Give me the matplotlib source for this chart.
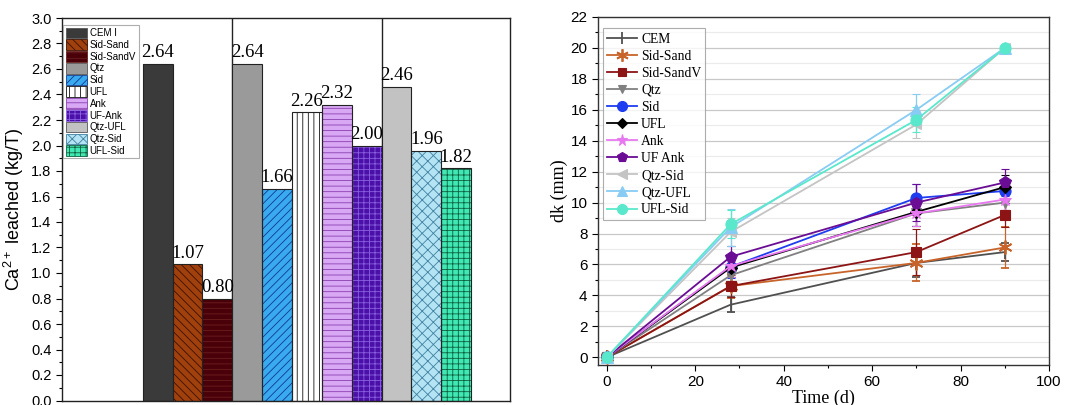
import matplotlib
matplotlib.use("Agg")
import matplotlib.pyplot as plt
from matplotlib.patches import Patch
from matplotlib.lines import Line2D
from matplotlib.ticker import MultipleLocator
import numpy as np

# ---------------- data: left bar chart ----------------
bar_labels = ["CEM I", "Sid-Sand", "Sid-SandV", "Qtz", "Sid", "UFL", "Ank",
              "UF-Ank", "Qtz-UFL", "Qtz-Sid", "UFL-Sid"]
bar_values = [2.64, 1.07, 0.80, 2.64, 1.66, 2.26, 2.32, 2.00, 2.46, 1.96, 1.82]
bar_value_text = ["2.64", "1.07", "0.80", "2.64", "1.66", "2.26", "2.32",
                  "2.00", "2.46", "1.96", "1.82"]

# ---------------- data: right line chart ----------------
time_d = [0, 28, 70, 90]
series_names = ["CEM", "Sid-Sand", "Sid-SandV", "Qtz", "Sid", "UFL", "Ank",
                "UF Ank", "Qtz-Sid", "Qtz-UFL", "UFL-Sid"]
dk_CEM = [0, 3.4, 6.1, 6.8]
dk_SidSand = [0, 4.6, 6.1, 7.1]
dk_SidSandV = [0, 4.6, 6.8, 9.2]
dk_Qtz = [0, 5.3, 9.3, 10.0]
dk_Sid = [0, 5.85, 10.3, 10.75]
dk_UFL = [0, 5.8, 9.4, 11.0]
dk_Ank = [0, 5.9, 9.3, 10.2]
dk_UFAnk = [0, 6.5, 10.0, 11.3]
dk_QtzSid = [0, 8.1, 15.05, 20.0]
dk_QtzUFL = [0, 8.4, 16.0, 20.0]
dk_UFLSid = [0, 8.6, 15.35, 20.0]

err_CEM = [0, 0.5, 0.9, 0.6]
err_SidSand = [0, 0.8, 1.2, 1.3]
err_SidSandV = [0, 0.7, 1.5, 0.8]
err_Qtz = [0, 0.6, 0.8, 0.5]
err_Sid = [0, 0.7, 0.9, 0.8]
err_UFL = [0, 0.6, 0.9, 0.8]
err_Ank = [0, 0.7, 0.8, 0.7]
err_UFAnk = [0, 0.7, 1.2, 0.9]
err_QtzSid = [0, 0.9, 0.9, 0.2]
err_QtzUFL = [0, 1.2, 1.0, 0.2]
err_UFLSid = [0, 0.9, 0.8, 0.2]

plt.rcParams['hatch.linewidth'] = 0.6
plt.rcParams['mathtext.fontset'] = 'custom'
plt.rcParams['mathtext.rm'] = 'Liberation Sans'
plt.rcParams['mathtext.it'] = 'Liberation Sans:italic'
plt.rcParams['mathtext.bf'] = 'Liberation Sans:bold'

fig = plt.figure(figsize=(10.76, 4.05), dpi=100)

# ================= left chart =================
ax1 = fig.add_axes([62/1076, 4.5/405, 448/1076, 382.5/405])
bar_face = ["#3a3a3a", "#a0400c", "#4a0008", "#9a9a9a", "#3aaaf0", "#ffffff",
            "#d8a8f4", "#4a10a8", "#c2c2c2", "#b4e4f4", "#40e8b4"]
bar_hatch = [None, "\\\\\\\\", "---", None, "////", "|||", "---", "+++",
             None, "xxx", "+++"]
hatch_col = ["#3a3a3a", "#3a1000", "#6a2020", "#9a9a9a", "#103a90", "#111111",
             "#8a40b0", "#8a60e0", "#c2c2c2", "#4080a0", "#106040"]
xpos = np.arange(len(bar_labels))
for sep in [2.5, 7.5]:
    ax1.axvline(sep, color="#222222", lw=1.0, zorder=0.5)
for i in range(len(bar_labels)):
    ax1.bar(xpos[i], bar_values[i], width=1.0, color=bar_face[i],
            hatch=bar_hatch[i], edgecolor=hatch_col[i], linewidth=0, zorder=2)
    ax1.bar(xpos[i], bar_values[i], width=1.0, fill=False,
            edgecolor="#222222", linewidth=0.8, zorder=3)
    ax1.text(xpos[i], bar_values[i] + 0.02, bar_value_text[i], ha="center",
             va="bottom", family="Liberation Serif", fontsize=13.5, zorder=4)
ax1.set_xlim(-3.2, 11.8)
ax1.set_ylim(0, 3.0)
ax1.set_yticks(np.arange(0, 3.01, 0.2))
ax1.yaxis.set_minor_locator(MultipleLocator(0.1))
ax1.set_yticklabels([f"{v:.1f}" for v in np.arange(0, 3.01, 0.2)],
                    family="Liberation Sans", fontsize=10.5)
ax1.set_xticks([])
ax1.tick_params(axis="y", which="major", direction="out", length=4, width=0.8)
ax1.tick_params(axis="y", which="minor", direction="out", length=2.5, width=0.8)
ax1.set_ylabel("Ca$^{2+}$ leached (kg/T)", family="Liberation Sans",
               fontsize=13, labelpad=4)
for s in ax1.spines.values():
    s.set_color("#222222")
    s.set_linewidth(1.0)
handles = [Patch(facecolor=bar_face[i], hatch=bar_hatch[i],
                 edgecolor=hatch_col[i] if bar_hatch[i] else "#555555",
                 linewidth=0.6, label=bar_labels[i])
           for i in range(len(bar_labels))]
leg1 = ax1.legend(handles=handles, loc="upper left",
                  bbox_to_anchor=(0.0, 0.985), prop={"family": "Liberation Sans", "size": 7.0},
                  frameon=True, fancybox=False, edgecolor="#999999",
                  handlelength=2.2, handleheight=1.3, labelspacing=0.12,
                  handletextpad=0.25, borderpad=0.25, borderaxespad=0.15)
leg1.get_frame().set_linewidth(0.8)

# ================= right chart =================
ax2 = fig.add_axes([598/1076, 40/405, 451/1076, 348/405])
series = [dk_CEM, dk_SidSand, dk_SidSandV, dk_Qtz, dk_Sid, dk_UFL, dk_Ank,
          dk_UFAnk, dk_QtzSid, dk_QtzUFL, dk_UFLSid]
errors = [err_CEM, err_SidSand, err_SidSandV, err_Qtz, err_Sid, err_UFL, err_Ank,
          err_UFAnk, err_QtzSid, err_QtzUFL, err_UFLSid]
line_col = ["#505050", "#c8642a", "#8c1414", "#808080", "#1e3cf0", "#000000",
            "#e878f0", "#6a0c94", "#c4c4c4", "#88ccf4", "#5ae8cc"]
markers = ["|", (6, 2, 0), "s", "v", "o", "D", "*", "p", "<", "^", "o"]
msizes = [10, 10, 6.5, 7, 8, 6, 9, 8.5, 7.5, 8, 8]
leg_handles = []
for i in range(len(series)):
    mew = 1.3 if markers[i] in ["|", (6, 2, 0)] else 0.8
    ax2.errorbar(time_d, series[i], yerr=errors[i], color=line_col[i],
                 marker=markers[i], markersize=msizes[i], lw=1.3,
                 elinewidth=0.9, capsize=3, capthick=0.9,
                 markeredgewidth=mew, errorevery=(1, 1),
                 zorder=3 + i * 0.01)
    leg_handles.append(Line2D([], [], color=line_col[i], marker=markers[i],
                              markersize=msizes[i] * 0.9, lw=1.3,
                              markeredgewidth=mew, label=series_names[i]))
ax2.set_xlim(-2, 100)
ax2.set_ylim(-0.5, 22)
ax2.xaxis.set_major_locator(MultipleLocator(20))
ax2.xaxis.set_minor_locator(MultipleLocator(10))
ax2.yaxis.set_major_locator(MultipleLocator(2))
ax2.yaxis.set_minor_locator(MultipleLocator(1))
ax2.grid(axis="y", which="major", color="#c8c8c8", lw=0.9, zorder=0)
ax2.grid(axis="y", which="minor", color="#ebebeb", lw=0.8, zorder=0)
ax2.set_axisbelow(True)
ax2.tick_params(which="major", direction="out", length=4, width=0.8,
                labelsize=11)
ax2.tick_params(which="minor", direction="out", length=2.5, width=0.8)
for lab in ax2.get_xticklabels() + ax2.get_yticklabels():
    lab.set_family("Liberation Sans")
ax2.set_xlabel("Time (d)", family="Liberation Serif", fontsize=13, labelpad=0)
ax2.set_ylabel("dk (mm)", family="Liberation Serif", fontsize=13, labelpad=2)
for s in ax2.spines.values():
    s.set_color("#333333")
    s.set_linewidth(1.0)
leg2 = ax2.legend(handles=leg_handles, loc="upper left",
                  bbox_to_anchor=(0.005, 0.975),
                  prop={"family": "Liberation Serif", "size": 9.8},
                  frameon=True, fancybox=False, edgecolor="#999999",
                  handlelength=2.2, labelspacing=0.3, handletextpad=0.3,
                  borderpad=0.3, borderaxespad=0.2, numpoints=1)
leg2.get_frame().set_linewidth(0.8)

fig.savefig("out.png", dpi=100)
